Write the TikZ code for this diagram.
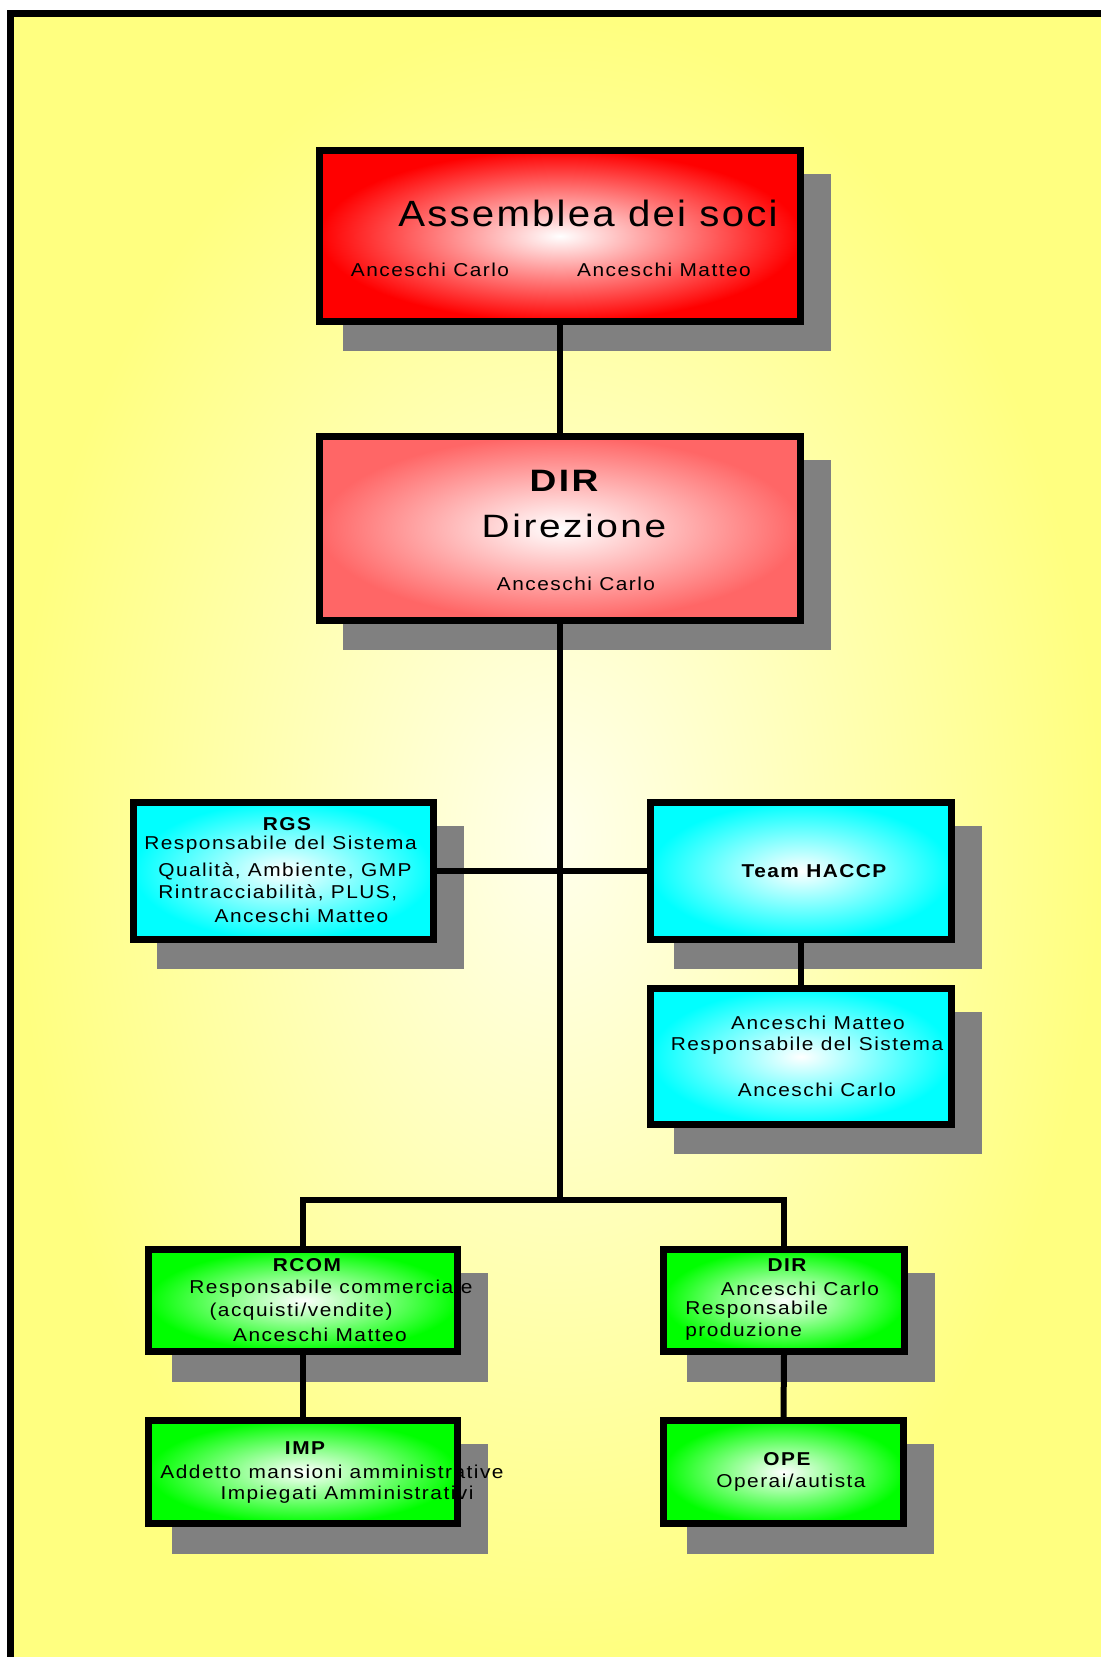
\documentclass[tikz,border=0pt]{standalone}
\usepackage{fontspec}
\setmainfont{Liberation Sans}[FakeStretch=1.12, LetterSpace=8]
\newfontfamily\titlefont{Liberation Sans}[FakeStretch=1.1, LetterSpace=6]
\newfontfamily\dirfont{Liberation Sans}[FakeStretch=1.2, LetterSpace=8]
\usetikzlibrary{shadows}
\definecolor{bgyellow}{RGB}{255,255,128}
\definecolor{bglight}{RGB}{255,255,236}
\definecolor{dirred}{RGB}{255,102,102}
\definecolor{boxcyan}{RGB}{0,255,255}
\definecolor{boxgreen}{RGB}{0,255,0}
\newcommand\smalltxt{\fontsize{10.6}{12.5}\selectfont}

\begin{document}
\begin{tikzpicture}[x=0.02cm, y=-0.02cm,
    box/.style={draw=black, line width=0.14cm, inner color=white,
        drop shadow={shadow xshift=0.54cm, shadow yshift=-0.53cm, fill=gray, draw=gray, line width=0.14cm, opacity=1}},
    txt/.style={inner sep=0pt, font=\smalltxt},
    head/.style={inner sep=0pt, font=\smalltxt\bfseries},
    link/.style={line width=0.12cm}]
\useasboundingbox (0,0) rectangle (1101,1657);
% background and frame
\shade[inner color=bglight, outer color=bgyellow] (14,17) rectangle (1101,1657);
\draw[line width=0.14cm] (10.5,1657) -- (10.5,13.5) -- (1101,13.5);

% boxes
\node[box, outer color=red, minimum width=9.62cm, minimum height=3.42cm] (asm) at (560,236) {};
\node[box, outer color=dirred, minimum width=9.62cm, minimum height=3.68cm] (dir) at (560,528.5) {};
\node[box, outer color=boxcyan, minimum width=6.0cm, minimum height=2.74cm] (rgs) at (283.5,871) {};
\node[box, outer color=boxcyan, minimum width=6.02cm, minimum height=2.74cm] (haccp) at (801,871) {};
\node[box, outer color=boxcyan, minimum width=6.02cm, minimum height=2.72cm] (resp) at (801,1056.5) {};
\node[box, outer color=boxgreen, minimum width=6.18cm, minimum height=2.04cm] (rcom) at (303,1300.5) {};
\node[box, outer color=boxgreen, minimum width=4.82cm, minimum height=2.04cm] (dir2) at (784,1300.5) {};
\node[box, outer color=boxgreen, minimum width=6.18cm, minimum height=2.06cm] (imp) at (303,1472) {};
\node[box, outer color=boxgreen, minimum width=4.80cm, minimum height=2.06cm] (ope) at (783.5,1472) {};

% connectors
\coordinate (bus) at (560,1200);
\draw[link] (asm.south) -- (dir.north);
\draw[link] (dir.south) -- (bus);
\draw[link] (rgs.east) -- (haccp.west);
\draw[link] (haccp.south) -- (resp.north);
\draw[link] (rcom.north) |- (bus) -| (dir2.north);
\draw[link] (rcom.south) -- (imp.north);
\draw[link] (dir2.south) -- (ope.north);

% texts
\node[inner sep=0pt, font=\titlefont\fontsize{20.8}{24}\selectfont] (t1) at (588,213) {Assemblea dei soci};
\node[txt] (t2) at (430,270) {Anceschi Carlo};
\node[txt] (t3) at (664,270) {Anceschi Matteo};

\node[inner sep=0pt, font=\dirfont\fontsize{17.6}{20}\selectfont\bfseries] (t4) at (564,481) {DIR};
\node[inner sep=0pt, font=\dirfont\fontsize{18.4}{21}\selectfont] (t5) at (574,526) {Direzione};
\node[txt] (t6) at (576,584) {Anceschi Carlo};

\node[head] (t7) at (287,824) {RGS};
\node[txt] (t8) at (280.5,845) {Responsabile del Sistema};
\node[txt, anchor=west] (t9) at (158,871) {Qualità, Ambiente, GMP};
\node[txt, anchor=west] (t10) at (158,893) {Rintracciabilità, PLUS,};
\node[txt] (t11) at (301.5,916) {Anceschi Matteo};

\node[head] (t12) at (814,871) {Team HACCP};

\node[txt] (t13) at (818,1023) {Anceschi Matteo};
\node[txt] (t14) at (807,1046) {Responsabile del Sistema};
\node[txt] (t15) at (817,1090) {Anceschi Carlo};

\node[head] (t16) at (307,1265) {RCOM};
\node[txt] (t17) at (331,1289) {Responsabile commerciale};
\node[txt] (t18) at (301,1312) {(acquisti/vendite)};
\node[txt] (t19) at (320,1335) {Anceschi Matteo};

\node[head] (t20) at (787,1265) {DIR};
\node[txt] (t21) at (800,1289) {Anceschi Carlo};
\node[txt, anchor=west] (t22) at (685,1310) {Responsabile};
\node[txt, anchor=west] (t23) at (685,1332) {produzione};

\node[head] (t24) at (305,1448) {IMP};
\node[txt] (t25) at (332,1472) {Addetto mansioni amministrative};
\node[txt] (t26) at (347,1495) {Impiegati Amministrativi};

\node[head] (t27) at (787,1459) {OPE};
\node[txt] (t28) at (791,1483) {Operai/autista};
\end{tikzpicture}
\end{document}
